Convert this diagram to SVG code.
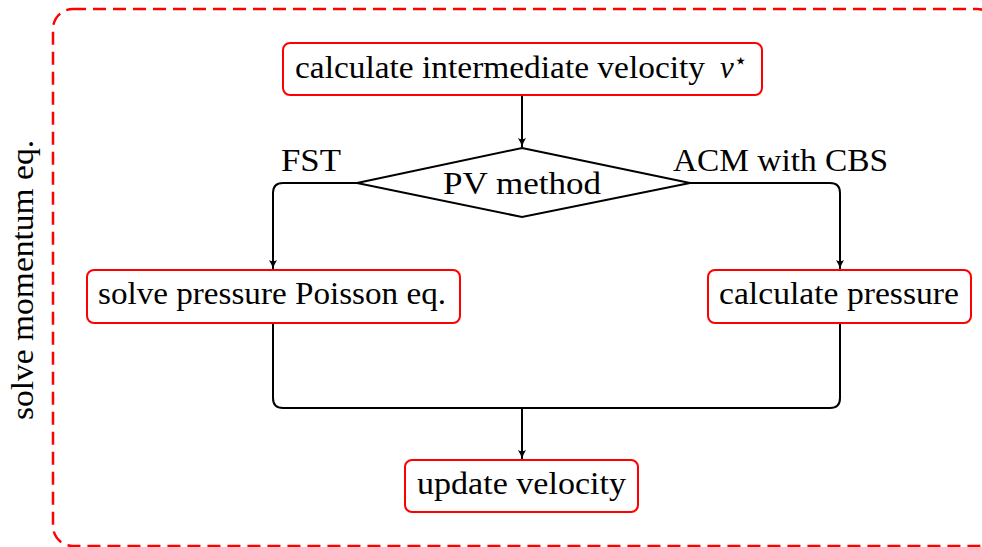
<svg xmlns="http://www.w3.org/2000/svg" width="982" height="547" viewBox="0 0 982 547">
<style>
.box{fill:#fff;stroke:#ff0000;stroke-width:2}
.t{font-family:"Liberation Serif","Times New Roman",serif;font-size:31px;fill:#000}
.c{fill:none;stroke:#000;stroke-width:2}
</style>
<defs>
<marker id="ah" markerWidth="12" markerHeight="12" refX="10" refY="6" orient="auto" markerUnits="userSpaceOnUse">
<path d="M1,2 Q6,5 10,6 Q6,7 1,10 Q3.5,6 1,2 Z" fill="#000"/>
</marker>
</defs>
<rect x="53" y="9" width="944" height="537" rx="20" fill="none" stroke="#ff0000" stroke-width="2.5" stroke-dasharray="13 7"/>
<text class="t" transform="translate(33,280) rotate(-90)" text-anchor="middle" textLength="280" lengthAdjust="spacingAndGlyphs">solve momentum eq.</text>
<g id="connectors">
<path class="c" d="M522,95 V147" marker-end="url(#ah)"/>
<path class="c" d="M357,183 H283 Q273,183 273,193 V269" marker-end="url(#ah)"/>
<path class="c" d="M690,183 H830 Q840,183 840,193 V269" marker-end="url(#ah)"/>
<path class="c" d="M273,323 V398 Q273,408 283,408 H830 Q840,408 840,398 V323"/>
<path class="c" d="M522,408 V459" marker-end="url(#ah)"/>
<text class="t" x="281" y="171" textLength="60" lengthAdjust="spacingAndGlyphs">FST</text>
<text class="t" x="673" y="171" textLength="215" lengthAdjust="spacingAndGlyphs">ACM with CBS</text>
</g>
<g id="n1">
<rect class="box" x="283" y="43" width="479" height="52" rx="7"/>
<text class="t" x="295" y="78"><tspan textLength="410" lengthAdjust="spacingAndGlyphs">calculate intermediate velocity</tspan><tspan x="720" font-style="italic">v</tspan><tspan font-family="DejaVu Sans,sans-serif" font-size="22" dy="-10" dx="0">⋆</tspan></text>
</g>
<g id="n2">
<polygon points="522,148 690,183 522,217 357,183" fill="#fff" stroke="#000" stroke-width="2"/>
<text class="t" x="522" y="193.5" text-anchor="middle" textLength="158" lengthAdjust="spacingAndGlyphs">PV method</text>
</g>
<g id="n3">
<rect class="box" x="87" y="270" width="373" height="53" rx="7"/>
<text class="t" x="98" y="304" textLength="348" lengthAdjust="spacingAndGlyphs">solve pressure Poisson eq.</text>
</g>
<g id="n4">
<rect class="box" x="708" y="270" width="263" height="53" rx="7"/>
<text class="t" x="719" y="304" textLength="240" lengthAdjust="spacingAndGlyphs">calculate pressure</text>
</g>
<g id="n5">
<rect class="box" x="405" y="460" width="233" height="52" rx="7"/>
<text class="t" x="417" y="494" textLength="209" lengthAdjust="spacingAndGlyphs">update velocity</text>
</g>
</svg>
